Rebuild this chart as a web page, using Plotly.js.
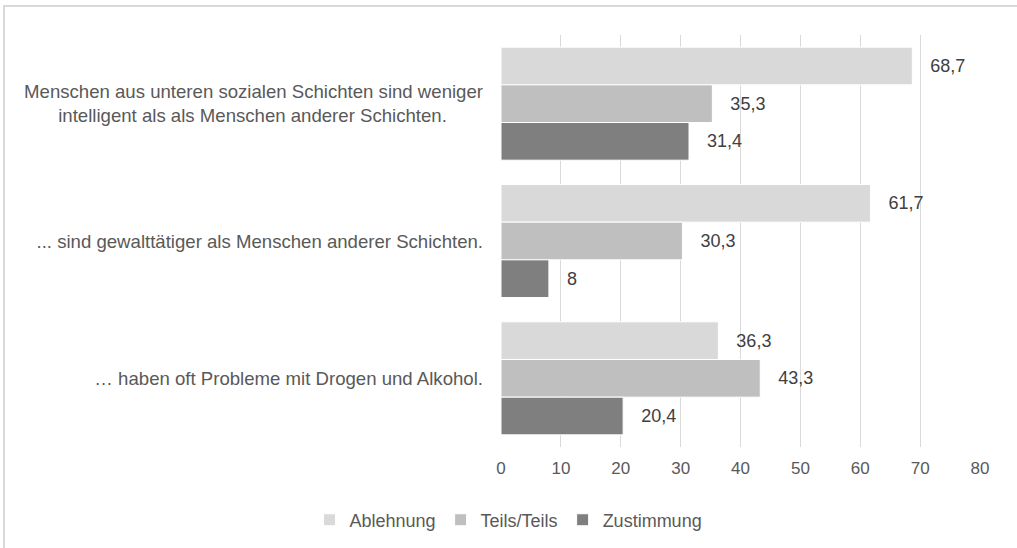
<!DOCTYPE html>
<html>
<head>
<meta charset="utf-8">
<script src="https://cdn.plot.ly/plotly-3.0.1.min.js"></script>
<style>
html,body{margin:0;padding:0;overflow:hidden;background:#fff;width:1017px;height:548px;}
#frame{position:absolute;left:3px;top:5px;width:1200px;height:800px;border-left:2px solid #d9d9d9;border-top:2px solid #d9d9d9;box-sizing:border-box;}
#chart{position:absolute;left:0;top:0;width:1017px;height:548px;}
</style>
</head>
<body>
<div id="frame"></div>
<div id="chart"></div>
<script>
var NB = '\u00a0';
var categories = [
  'Menschen aus unteren sozialen Schichten sind weniger<br>intelligent als als Menschen anderer Schichten.' + NB.repeat(7),
  '... sind gewalttätiger als Menschen anderer Schichten.',
  '… haben oft Probleme mit Drogen und Alkohol.'
];
var seriesNames = ['Ablehnung', 'Teils/Teils', 'Zustimmung'];
var ablehnung = [68.7, 61.7, 36.3];
var teils = [35.3, 30.3, 43.3];
var zustimmung = [31.4, 8, 20.4];
var colors = ['#d9d9d9', '#bfbfbf', '#7f7f7f'];
var xTicks = [0, 10, 20, 30, 40, 50, 60, 70, 80];

var FONT = 'Liberation Sans, Arial, sans-serif';
function fmt(v){ return NB.repeat(3) + String(v).replace('.', ','); }

var allSeries = [ablehnung, teils, zustimmung];
var traces = allSeries.map(function(vals, i){
  return {
    type: 'bar',
    orientation: 'h',
    name: seriesNames[i],
    y: categories,
    x: vals,
    text: vals.map(fmt),
    textposition: 'outside',
    textfont: {family: FONT, size: 18, color: '#404040'},
    cliponaxis: false,
    marker: {color: colors[i], line: {color: '#ffffff', width: 1}},
    hoverinfo: 'none'
  };
});

var layout = {
  width: 1017, height: 548,
  margin: {l: 501, r: 37, t: 35, b: 101},
  paper_bgcolor: 'rgba(0,0,0,0)',
  plot_bgcolor: 'rgba(0,0,0,0)',
  font: {family: FONT, size: 18, color: '#595959'},
  barmode: 'group',
  bargap: 0.177,
  bargroupgap: 0,
  showlegend: true,
  legend: {
    orientation: 'h', xref: 'container', yref: 'container',
    x: 0.5, xanchor: 'center', y: 0.051, yanchor: 'middle',
    font: {family: FONT, size: 18, color: '#595959'},
    traceorder: 'normal',
    itemwidth: 30
  },
  xaxis: {
    range: [0, 80],
    tickvals: xTicks,
    ticktext: xTicks.map(String),
    showgrid: true, gridcolor: '#d9d9d9', gridwidth: 1,
    zeroline: false, showline: false,
    ticks: '', ticklabelstandoff: 9,
    tickfont: {family: FONT, size: 17, color: '#595959'},
    fixedrange: true
  },
  yaxis: {
    autorange: 'reversed',
    showgrid: false, zeroline: false, showline: false,
    ticks: '', ticklabelstandoff: 17,
    tickfont: {family: FONT, size: 18.6, color: '#595959'},
    fixedrange: true
  }
};

Plotly.newPlot('chart', traces, layout, {displayModeBar: false, staticPlot: true});
</script>
</body>
</html>
